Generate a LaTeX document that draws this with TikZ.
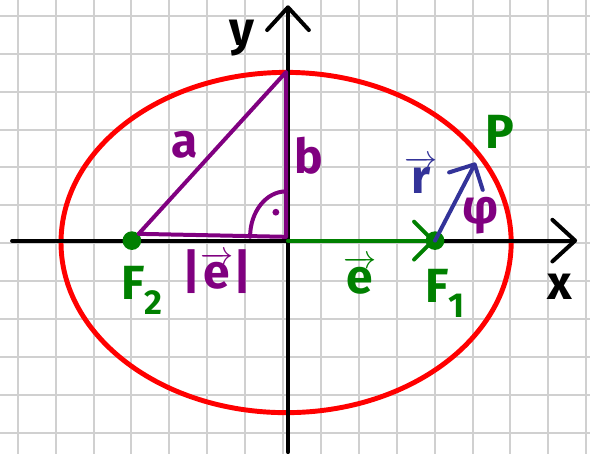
\documentclass[tikz,border=0pt]{standalone}
\usepackage{fontspec}
\setmainfont{Fira Sans}
\usepackage{tikz}
\usetikzlibrary{arrows.meta}
\definecolor{ellred}{HTML}{FF0000}
\definecolor{triviolet}{HTML}{800080}
\definecolor{focgreen}{HTML}{008000}
\definecolor{vecblue}{HTML}{333399}
\definecolor{gridgray}{HTML}{D0D0D0}
\newcommand{\hand}{\fontsize{36}{36}\selectfont\bfseries}
\newcommand{\vtext}[1]{$\overrightarrow{\mbox{#1}}$}

\begin{document}
\begin{tikzpicture}[
  gridline/.style={gridgray, line width=1.5pt},
  axis/.style={black, line width=3pt, line cap=round, line join=round, -{Straight Barb[round, length=0.6cm, width=1.1cm]}},
  tri/.style={triviolet, line width=3pt, line cap=round, line join=round},
  vecarr/.style={line width=3pt, line cap=round, -{Straight Barb[round, length=0.5cm, width=1.0cm]}},
  focus/.style={circle, fill=focgreen, inner sep=0pt, minimum size=14pt},
  lbl/.style={inner sep=0pt, font=\hand}
]
  \useasboundingbox (-7.6,-5.63) rectangle (7.97,6.35);
  % grid paper
  \foreach \k in {-7,...,8} \draw[gridline] (\k-0.13,-5.63) -- (\k-0.13,6.35);
  \foreach \k in {-5,...,6} \draw[gridline] (-7.6,\k-0.07) -- (7.97,\k-0.07);

  % ellipse
  \draw[ellred, line width=3.7pt] (-0.05,-0.05) ellipse [x radius=5.94, y radius=4.49];

  % axes
  \coordinate (O) at (0,0);
  \coordinate (xlo) at (-7.28,0);
  \coordinate (xhi) at (7.63,0);
  \coordinate (ylo) at (0,-5.58);
  \coordinate (yhi) at (0,6.21);
  \draw[axis] (xlo) -- (xhi);
  \draw[axis] (ylo) -- (yhi);

  % foci
  \node[focus] (F2) at (-4.12,0) {};
  \node[focus] (F1) at (3.88,0) {};

  % triangle a, b, |e|
  \coordinate (T) at (-0.05,4.45);
  \coordinate (C) at (-0.05,0.1);
  \draw[tri] (F2.north east) -- (T) -- (C) -- cycle;
  \draw[tri] (-1.0,0.1) arc[start angle=180, end angle=90, x radius=0.95, y radius=1.2];
  \fill[triviolet] (-0.32,0.75) circle (0.09);

  % vectors e and r
  \coordinate (P) at (4.95,2.06);
  \draw[vecarr, focgreen] (O) -- (F1.center);
  \draw[vecarr, vecblue] (F1.center) -- (P);

  % labels
  \node[lbl] (ylab) at (-1.21,5.34) {y};
  \node[lbl] (xlab) at (7.18,-1.23) {x};
  \node[lbl, triviolet] (alab) at (-2.72,2.52) {a};
  \node[lbl, triviolet] (blab) at (0.55,2.23) {b};
  \node[lbl, triviolet] (elen) at (-1.87,-0.83) {|\vtext{e}|};
  \node[lbl, triviolet] (philab) at (5.07,0.67) {φ};
  \node[lbl, focgreen] (plab) at (5.59,2.86) {P};
  \node[lbl, focgreen] (evec) at (1.90,-0.91) {\vtext{e}};
  \node[lbl, focgreen] (f1lab) at (4.14,-1.39) {F\raisebox{-0.3em}{\fontsize{26}{26}\selectfont 1}};
  \node[lbl, focgreen] (f2lab) at (-3.85,-1.31) {F\raisebox{-0.3em}{\fontsize{26}{26}\selectfont 2}};
  \node[lbl, vecblue] (rvec) at (3.51,1.73) {\vtext{r}};
\end{tikzpicture}
\end{document}
